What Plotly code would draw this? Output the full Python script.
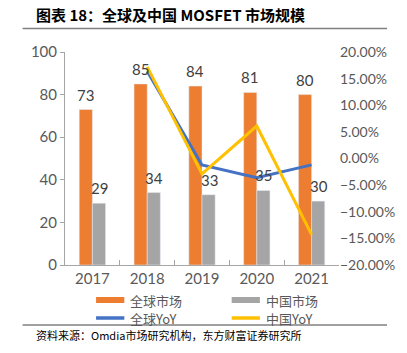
import plotly.graph_objects as go

years = ["2017", "2018", "2019", "2020", "2021"]
global_mkt = [73, 85, 84, 81, 80]
china_mkt = [29, 34, 33, 35, 30]
global_yoy = [None, 0.164, -0.012, -0.036, -0.012]
china_yoy = [None, 0.172, -0.029, 0.061, -0.143]

names = ["全球市场", "中国市场", "全球YoY", "中国YoY"]
colors = ["#ED7D31", "#A5A5A5", "#4472C4", "#FFC000"]

W, H = 407, 353
L, R, T, B = 65, 51, 52, 88
PW, PH = W - L - R, H - T - B

def px(x):
    return (x - L) / PW

def py(y):
    return (H - B - y) / PH

cjk = "Noto Sans CJK SC"
num = "Lato"
grey_txt = "#595959"

fig = go.Figure()
fig.add_trace(go.Bar(x=years, y=global_mkt, name=names[0], marker_color=colors[0]))
fig.add_trace(go.Bar(x=years, y=china_mkt, name=names[1], marker_color=colors[1]))
fig.add_trace(go.Scatter(x=years, y=global_yoy, name=names[2], yaxis="y2", mode="lines",
                         line=dict(color=colors[2], width=3)))
fig.add_trace(go.Scatter(x=years, y=china_yoy, name=names[3], yaxis="y2", mode="lines",
                         line=dict(color=colors[3], width=3)))

fig.update_layout(
    width=W, height=H, margin=dict(l=L, r=R, t=T, b=B),
    paper_bgcolor="white", plot_bgcolor="white",
    showlegend=False, barmode="group", bargap=0.52, bargroupgap=0,
    font=dict(family=num, color=grey_txt, size=13),
    xaxis=dict(type="category", categoryorder="array", categoryarray=years,
               range=[-0.5, len(years) - 0.5], autorange=False,
               showline=True, linecolor="#A6A6A6", linewidth=1,
               ticks="inside", tickson="boundaries", ticklen=5, tickcolor="#A6A6A6",
               tickfont=dict(size=15, color=grey_txt), showgrid=False),
    yaxis=dict(range=[0, 100], dtick=20, showline=True, linecolor="#A6A6A6",
               ticks="outside", ticklen=4, tickcolor="#A6A6A6", showgrid=False,
               zeroline=False, tickfont=dict(size=15, color=grey_txt)),
    yaxis2=dict(range=[-0.2, 0.2], dtick=0.05, tickformat=".2%", overlaying="y",
                side="right", showgrid=False, zeroline=False, showline=False,
                tickfont=dict(size=14, color=grey_txt)),
)

shapes = [
    dict(type="line", xref="paper", yref="paper", x0=px(20), x1=px(407), y0=py(28.5), y1=py(28.5),
         line=dict(color="#7F7F7F", width=1.5)),
    dict(type="line", xref="paper", yref="paper", x0=px(20), x1=px(407), y0=py(325), y1=py(325),
         line=dict(color="#7F7F7F", width=1.5)),
]
anns = [
    dict(text="<b>图表 18：全球及中国 MOSFET 市场规模</b>", xref="paper", yref="paper",
         x=px(32), y=py(15), xanchor="left", yanchor="middle", showarrow=False,
         font=dict(family=cjk, size=15, color="#000000")),
    dict(text="资料来源：Omdia市场研究机构，东方财富证券研究所", xref="paper", yref="paper",
         x=px(32), y=py(335), xanchor="left", yanchor="middle", showarrow=False,
         font=dict(family=cjk, size=11, color="#000000")),
]
# bar value labels
for vals, xs in ((global_mkt, -7), (china_mkt, 7)):
    for i, v in enumerate(vals):
        anns.append(dict(text=str(v), x=i, y=v, xref="x", yref="y", xshift=xs, yshift=15,
                         xanchor="center", yanchor="middle", showarrow=False,
                         font=dict(family=num, size=15, color="#404040")))
# manual legend
leg = [(names[0], colors[0], "rect", 98, 300), (names[1], colors[1], "rect", 242, 300),
       (names[2], colors[2], "line", 98, 318), (names[3], colors[3], "line", 242, 318)]
for nm, c, kind, x0, yy in leg:
    if kind == "rect":
        shapes.append(dict(type="rect", xref="paper", yref="paper", x0=px(x0), x1=px(x0 + 30),
                           y0=py(yy + 3), y1=py(yy - 3), fillcolor=c, line=dict(width=0)))
    else:
        shapes.append(dict(type="line", xref="paper", yref="paper", x0=px(x0), x1=px(x0 + 30),
                           y0=py(yy), y1=py(yy), line=dict(color=c, width=3.5)))
    anns.append(dict(text=nm, xref="paper", yref="paper", x=px(x0 + 34), y=py(yy),
                     xanchor="left", yanchor="middle", showarrow=False,
                     font=dict(family=cjk, size=13, color=grey_txt)))
fig.update_layout(shapes=shapes, annotations=anns)

fig.write_html("out.html")
